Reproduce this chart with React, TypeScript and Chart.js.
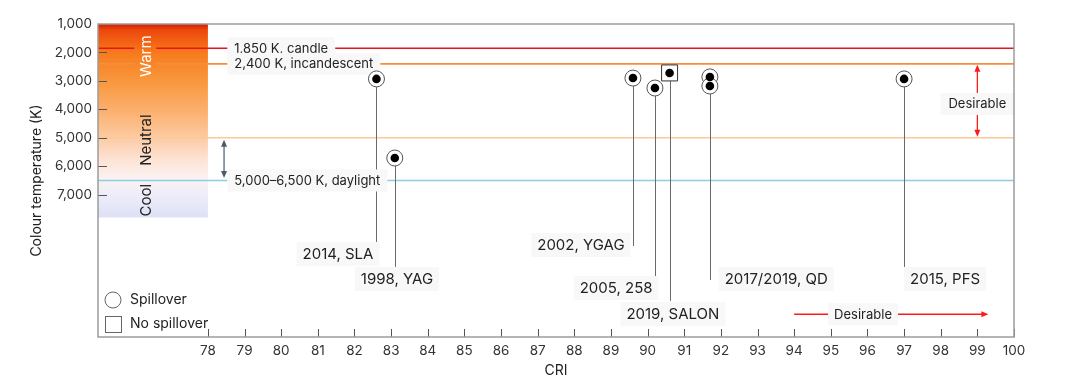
import { useEffect, useRef } from 'react';
import { Chart, registerables } from 'chart.js';

Chart.register(...registerables);

const FONT = 'Inter, Roboto, "Noto Sans", sans-serif';

// Axes
const xMin = 75;
const xMax = 100;
const yMin = 1000;
const yMax = 12000;
const xTicks = [78, 79, 80, 81, 82, 83, 84, 85, 86, 87, 88, 89, 90, 91, 92, 93, 94, 95, 96, 97, 98, 99, 100];
const xTickLabels = ['78', '79', '80', '81', '82', '83', '84', '85', '86', '87', '88', '89', '90', '91', '92', '93', '94', '95', '96', '97', '98', '99', '100'];
const yTicks = [1000, 2000, 3000, 4000, 5000, 6000, 7000];
const yTickLabels = ['1,000', '2,000', '3,000', '4,000', '5,000', '6,000', '7,000'];
const xTitle = 'CRI';
const yTitle = 'Colour temperature (K)';

// Phosphor data points
const pointCRI = [82.6, 83.1, 89.6, 90.2, 90.6, 91.7, 91.7, 97.0];
const pointTemp = [2930, 5710, 2900, 3250, 2720, 2860, 3180, 2930];
const pointSpill = [true, true, true, true, false, true, true, true];

// Callouts (leader lines and their labels)
const calloutText = ['2014, SLA', '1998, YAG', '2002, YGAG', '2005, 258', '2019, SALON', '2017/2019, QD', '2015, PFS'];
const calloutCRI = [82.6, 83.1, 89.6, 90.2, 90.6, 91.7, 97.0];
const calloutFrom = [2930, 5710, 2900, 3250, 2720, 2860, 2930];
const calloutTo = [8700, 9580, 8800, 10030, 10730, 10000, 9540];
const calloutLabelCRI = [81.55, 83.16, 88.18, 89.14, 90.69, 93.51, 98.12];
const calloutLabelTemp = [9080, 9960, 8770, 10280, 11190, 9960, 9960];

// Reference colour-temperature lines
const refTemps = [1850, 2400, 5000, 6500];
const refLabels = ['1,850 K, candle', '2,400 K, incandescent', '', '5,000–6,500 K, daylight'];
const refColors = ['#e8141c', '#f58f3a', '#ffc792', '#8ccfe0'];
const refLabelCRI = 78.72;

// Warm / neutral / cool band
const bandCRI = [75, 78];
const bandTemp = [1000, 7800];
const bandStops: [number, string][] = [
  [0, '#d41c00'],
  [0.03, '#ec470c'],
  [0.15, '#f77b1c'],
  [0.3, '#f9983f'],
  [0.45, '#fbb06e'],
  [0.58, '#fcc9a0'],
  [0.7, '#fde3d4'],
  [0.8, '#fbf2f2'],
  [0.88, '#eeedf9'],
  [1, '#dde1f6'],
];
const zoneNames = ['Warm', 'Neutral', 'Cool'];
const zoneTemp = [2130, 5080, 7190];
const zoneColors = ['#ffffff', '#222222', '#222222'];
const zoneCut = [true, true, false];
const zoneCRI = 76.29;

// Arrows
const daylightArrowCRI = 78.44;
const daylightArrowTemp = [5000, 6450];
const desirableV = { cri: 99.0, from: 2400, to: 5000, labelTemp: 3810 };
const desirableH = { temp: 11200, from: 94.0, to: 99.3, labelCRI: 95.88 };
const desirableText = 'Desirable';

const legendText = ['Spillover', 'No spillover'];

function arrowHead(ctx: CanvasRenderingContext2D, x: number, y: number, ang: number, len = 7, half = 3) {
  ctx.beginPath();
  ctx.moveTo(x, y);
  ctx.lineTo(x - len * Math.cos(ang) + half * Math.sin(ang), y - len * Math.sin(ang) - half * Math.cos(ang));
  ctx.lineTo(x - len * Math.cos(ang) - half * Math.sin(ang), y - len * Math.sin(ang) + half * Math.cos(ang));
  ctx.closePath();
  ctx.fill();
}

function seg(ctx: CanvasRenderingContext2D, x1: number, y1: number, x2: number, y2: number) {
  ctx.beginPath();
  ctx.moveTo(x1, y1);
  ctx.lineTo(x2, y2);
  ctx.stroke();
}

function boxText(
  ctx: CanvasRenderingContext2D,
  text: string,
  x: number,
  y: number,
  align: 'left' | 'center',
  padX = 7,
  h = 24,
  bg = '#f8f8f8',
) {
  const w = ctx.measureText(text).width;
  const left = align === 'left' ? x : x - w / 2;
  ctx.fillStyle = bg;
  ctx.fillRect(left - padX, y - h / 2, w + padX * 2, h);
  ctx.fillStyle = '#222222';
  ctx.textAlign = 'left';
  ctx.textBaseline = 'middle';
  ctx.fillText(text, left, y + 0.5);
}

const decorPlugin = {
  id: 'decor',
  beforeDatasetsDraw(chart: any) {
    const { ctx, chartArea: a, scales } = chart;
    const xs = scales.x;
    const ys = scales.y;
    const X = (v: number) => xs.getPixelForValue(v);
    const Y = (v: number) => ys.getPixelForValue(v);
    ctx.save();

    // gradient band
    const bx0 = X(bandCRI[0]);
    const bx1 = X(bandCRI[1]);
    const by0 = Y(bandTemp[0]);
    const by1 = Y(bandTemp[1]);
    const g = ctx.createLinearGradient(0, by0, 0, by1);
    bandStops.forEach(([o, c]) => g.addColorStop(o, c));
    ctx.fillStyle = g;
    ctx.fillRect(bx0, by0, bx1 - bx0, by1 - by0);

    // reference lines
    ctx.lineWidth = 1.6;
    refTemps.forEach((t, i) => {
      ctx.strokeStyle = refColors[i];
      seg(ctx, a.left, Y(t), a.right, Y(t));
    });

    // zone labels
    ctx.font = `15px ${FONT}`;
    zoneNames.forEach((n, i) => {
      const cx = X(zoneCRI);
      const cy = Y(zoneTemp[i]);
      const w = ctx.measureText(n).width;
      if (zoneCut[i]) {
        ctx.fillStyle = g;
        ctx.fillRect(cx - 11, cy - w / 2 - 5, 22, w + 10);
      }
      ctx.save();
      ctx.translate(cx, cy);
      ctx.rotate(-Math.PI / 2);
      ctx.fillStyle = zoneColors[i];
      ctx.textAlign = 'center';
      ctx.textBaseline = 'middle';
      ctx.fillText(n, 0, 1);
      ctx.restore();
    });

    // leader lines
    ctx.strokeStyle = '#6a6a6a';
    ctx.lineWidth = 1;
    calloutText.forEach((_, i) => {
      const px = Math.round(X(calloutCRI[i])) + 0.5;
      seg(ctx, px, Y(calloutFrom[i]), px, Y(calloutTo[i]));
    });

    // reference line labels
    ctx.font = `13px ${FONT}`;
    refLabels.forEach((t, i) => {
      if (!t) return;
      boxText(ctx, t, X(refLabelCRI), Y(refTemps[i]), 'left', 7, 22);
    });

    // callout labels
    ctx.font = `15px ${FONT}`;
    calloutText.forEach((t, i) => {
      boxText(ctx, t, X(calloutLabelCRI[i]), Y(calloutLabelTemp[i]), 'center', 6, 24);
    });

    // daylight double arrow
    ctx.strokeStyle = '#4a5a70';
    ctx.fillStyle = '#4a5a70';
    ctx.lineWidth = 1.2;
    {
      const ax = X(daylightArrowCRI);
      const y1 = Y(daylightArrowTemp[0]) + 2;
      const y2 = Y(daylightArrowTemp[1]) - 1;
      seg(ctx, ax, y1 + 4, ax, y2 - 4);
      arrowHead(ctx, ax, y1, -Math.PI / 2);
      ctx.fillStyle = '#4a5a70';
      arrowHead(ctx, ax, y2, Math.PI / 2);
    }

    // desirable arrows
    ctx.strokeStyle = '#ff1a1a';
    ctx.fillStyle = '#ff1a1a';
    ctx.lineWidth = 1.3;
    {
      const ax = X(desirableV.cri);
      const y1 = Y(desirableV.from) + 1;
      const y2 = Y(desirableV.to) - 1;
      seg(ctx, ax, y1 + 4, ax, y2 - 4);
      arrowHead(ctx, ax, y1, -Math.PI / 2);
      arrowHead(ctx, ax, y2, Math.PI / 2);
      ctx.font = `13px ${FONT}`;
      boxText(ctx, desirableText, ax, Y(desirableV.labelTemp), 'center', 8, 22);
    }
    {
      ctx.strokeStyle = '#ff1a1a';
      ctx.fillStyle = '#ff1a1a';
      const ay = Y(desirableH.temp);
      const x1 = X(desirableH.from);
      const x2 = X(desirableH.to);
      seg(ctx, x1, ay, x2 - 4, ay);
      arrowHead(ctx, x2, ay, 0);
      ctx.font = `13px ${FONT}`;
      boxText(ctx, desirableText, X(desirableH.labelCRI), ay, 'center', 6, 22);
    }

    // tick marks (inside)
    ctx.strokeStyle = '#555555';
    ctx.lineWidth = 1;
    xs.ticks.forEach((t: any) => {
      const px = Math.round(X(t.value)) + 0.5;
      seg(ctx, px, a.bottom, px, a.bottom - 8);
    });
    ys.ticks.forEach((t: any) => {
      const py = Math.round(Y(t.value)) + 0.5;
      seg(ctx, a.left, py, a.left + 9, py);
    });

    // frame
    ctx.strokeStyle = '#9c9c9c';
    ctx.lineWidth = 1.5;
    ctx.strokeRect(a.left, a.top, a.right - a.left, a.bottom - a.top);

    // axis titles
    ctx.fillStyle = '#222222';
    ctx.font = `14px ${FONT}`;
    ctx.textAlign = 'center';
    ctx.textBaseline = 'middle';
    ctx.fillText(xTitle, (a.left + a.right) / 2, a.bottom + 34);
    ctx.save();
    ctx.translate(37, (a.top + a.bottom) / 2);
    ctx.rotate(-Math.PI / 2);
    ctx.fillText(yTitle, 0, 0);
    ctx.restore();

    // legend
    const lx = a.left + 15;
    const ly1 = a.bottom - 37;
    const ly2 = a.bottom - 13;
    ctx.strokeStyle = '#666666';
    ctx.lineWidth = 1;
    ctx.fillStyle = '#ffffff';
    ctx.beginPath();
    ctx.arc(lx, ly1, 8, 0, Math.PI * 2);
    ctx.fill();
    ctx.stroke();
    ctx.strokeRect(lx - 8 + 0.5, ly2 - 8 + 0.5, 16, 16);
    ctx.fillStyle = '#222222';
    ctx.font = `14px ${FONT}`;
    ctx.textAlign = 'left';
    ctx.textBaseline = 'middle';
    ctx.fillText(legendText[0], lx + 17, ly1);
    ctx.fillText(legendText[1], lx + 17, ly2);

    ctx.restore();
  },
};

export default function App() {
  const ref = useRef<HTMLCanvasElement | null>(null);
  useEffect(() => {
    document.body.style.margin = '0';
    const canvas = ref.current;
    if (!canvas) return;
    const ringData = pointCRI.map((x, i) => ({ x, y: pointTemp[i] })).filter((_, i) => pointSpill[i]);
    const squareData = pointCRI.map((x, i) => ({ x, y: pointTemp[i] })).filter((_, i) => !pointSpill[i]);
    const dotData = pointCRI.map((x, i) => ({ x, y: pointTemp[i] }));
    const chart = new Chart(canvas, {
      type: 'scatter',
      data: {
        datasets: [
          {
            label: 'dots',
            data: dotData,
            pointStyle: 'circle',
            pointRadius: 4.3,
            backgroundColor: '#000000',
            borderColor: '#000000',
            borderWidth: 0,
            order: 0,
          },
          {
            label: 'Spillover',
            data: ringData,
            pointStyle: 'circle',
            pointRadius: 8,
            backgroundColor: '#ffffff',
            borderColor: '#555555',
            borderWidth: 1,
            order: 1,
          },
          {
            label: 'No spillover',
            data: squareData,
            pointStyle: 'rect',
            pointRadius: 11.3,
            backgroundColor: '#ffffff',
            borderColor: '#333333',
            borderWidth: 1,
            order: 2,
          },
        ],
      },
      options: {
        animation: false,
        responsive: false,
        events: [],
        layout: { padding: { left: 0, right: 66, top: 24, bottom: 0 } },
        plugins: { legend: { display: false }, tooltip: { enabled: false }, title: { display: false } },
        scales: {
          x: {
            type: 'linear',
            min: xMin,
            max: xMax,
            grid: { display: false, drawTicks: false },
            border: { display: false },
            afterBuildTicks: (s: any) => {
              s.ticks = xTicks.map((v) => ({ value: v }));
            },
            afterFit: (s: any) => {
              s.height = 51;
            },
            ticks: {
              autoSkip: false,
              maxRotation: 0,
              padding: 6,
              color: '#333333',
              font: { family: FONT, size: 13.5 },
              callback: (v: any) => {
                const i = xTicks.indexOf(Number(v));
                return i >= 0 ? xTickLabels[i] : '';
              },
            },
          },
          y: {
            type: 'linear',
            reverse: true,
            min: yMin,
            max: yMax,
            grid: { display: false, drawTicks: false },
            border: { display: false },
            afterBuildTicks: (s: any) => {
              s.ticks = yTicks.map((v) => ({ value: v }));
            },
            afterFit: (s: any) => {
              s.width = 98;
            },
            ticks: {
              autoSkip: false,
              padding: 6,
              color: '#333333',
              font: { family: FONT, size: 13.5 },
              callback: (v: any) => {
                const i = yTicks.indexOf(Number(v));
                return i >= 0 ? yTickLabels[i] : '';
              },
            },
          },
        },
      },
      plugins: [decorPlugin],
    });
    return () => chart.destroy();
  }, []);
  return <canvas ref={ref} width={1080} height={388} style={{ display: 'block', width: 1080, height: 388 }} />;
}
